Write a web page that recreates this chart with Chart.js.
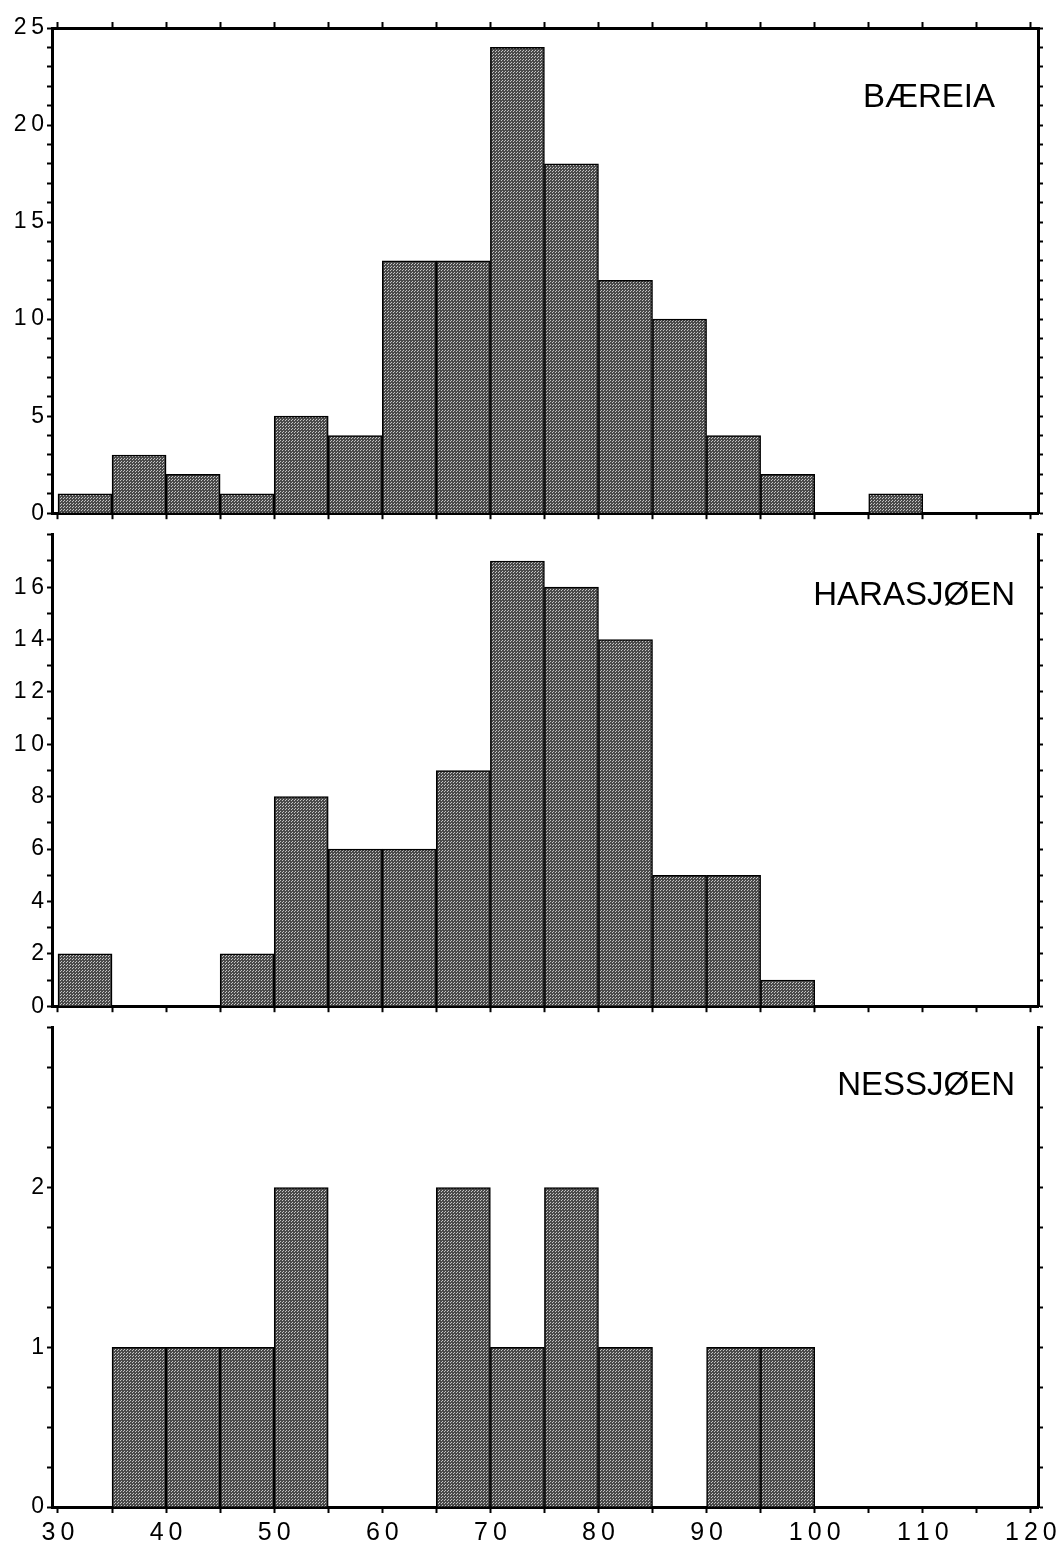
<!DOCTYPE html>
<html lang="no">
<head>
<meta charset="UTF-8">
<title>Histogrammer</title>
<script src="https://cdn.jsdelivr.net/npm/chart.js"></script>
<style>
  body { margin: 0; background: #fff; }
  #wrap { position: relative; width: 1056px; height: 1550px; overflow: hidden; }
  canvas { position: absolute; left: 0; }
  .lbl { position: absolute; font-family: 'Liberation Sans', Arial, sans-serif; font-size: 33px; color: #000; }
</style>
</head>
<body>
<div id="wrap">
  <canvas id="c1" width="1056" height="530" style="top:0"></canvas>
  <canvas id="c2" width="1056" height="505" style="top:518px"></canvas>
  <canvas id="c3" width="1056" height="539" style="top:1011px"></canvas>
  <div class="lbl" style="top:77px; right:61px">BÆREIA</div>
  <div class="lbl" style="top:575px; right:41px">HARASJØEN</div>
  <div class="lbl" style="top:1065px; right:41px">NESSJØEN</div>
</div>
<script>
// klassegrenser (start på hver 5-klasse)
const binStarts = [30, 35, 40, 45, 50, 55, 60, 65, 70, 75, 80, 85, 90, 95, 100, 105, 110, 115];
const bareia    = [1, 3, 2, 1, 5, 4, 13, 13, 24, 18, 12, 10, 4, 2, 0, 1, 0, 0];
const harasjoen = [2, 0, 0, 2, 8, 6, 6, 9, 17, 16, 14, 5, 5, 1, 0, 0, 0, 0];
const nessjoen  = [0, 1, 1, 1, 2, 0, 0, 2, 1, 2, 1, 0, 1, 1, 0, 0, 0, 0];
const xTicks = [30, 35, 40, 45, 50, 55, 60, 65, 70, 75, 80, 85, 90, 95, 100, 105, 110, 115, 120];

Chart.defaults.font.family = "'Liberation Sans', Arial, sans-serif";
Chart.defaults.color = '#000';

// prikkete grå fyll som i originalen
function stipple() {
  const pc = document.createElement('canvas');
  pc.width = 3; pc.height = 3;
  const p = pc.getContext('2d');
  p.fillStyle = '#4a4a4a';
  p.fillRect(0, 0, 3, 3);
  p.fillStyle = '#c4c4c4';
  p.fillRect(0, 0, 1, 1);
  p.fillRect(1, 2, 1, 1);
  return p.createPattern(pc, 'repeat');
}

const spaced = v => String(v).split('').join('\u2009');

function xAxis(pos, height, showLabels) {
  return {
    type: 'linear',
    position: pos,
    min: 29.445,
    max: 120.66,
    offset: false,
    afterBuildTicks: s => { s.ticks = xTicks.map(v => ({ value: v })); },
    afterFit: s => { s.height = height; s.paddingLeft = 0; s.paddingRight = 0; },
    border: { display: true, color: '#000', width: 3 },
    grid: { offset: false, drawOnChartArea: false, drawTicks: true, tickLength: 6, tickColor: '#000', tickWidth: 2 },
    ticks: {
      display: showLabels,
      autoSkip: false,
      maxRotation: 0,
      padding: 5,
      font: { size: 25 },
      callback: v => (v % 10 === 0 ? spaced(v) : '')
    }
  };
}

function yAxis(pos, max, step, labelFn) {
  return {
    position: pos,
    min: 0,
    max: max,
    afterBuildTicks: s => {
      const t = [];
      for (let v = 0; v <= max + 1e-9; v += step) t.push({ value: v });
      s.ticks = t;
    },
    afterFit: s => { s.width = pos === 'left' ? 52 : 18; },
    border: { display: true, color: '#000', width: 3 },
    grid: { drawOnChartArea: false, drawTicks: true, tickLength: 5, tickColor: '#000', tickWidth: 2 },
    ticks: {
      display: pos === 'left',
      autoSkip: false,
      padding: 3,
      font: { size: 23 },
      callback: v => labelFn(v)
    }
  };
}

function panel(id, values, max, step, labelFn, hasTop, bottomH) {
  const scales = {
    x: xAxis('bottom', bottomH, bottomH > 20),
    y: yAxis('left', max, step, labelFn),
    y2: yAxis('right', max, step, () => '')
  };
  if (hasTop) scales.xt = xAxis('top', 28, false);
  return new Chart(document.getElementById(id), {
    type: 'bar',
    data: {
      datasets: [{
        data: binStarts.map((b, i) => ({ x: b + 2.5, y: values[i] })),
        backgroundColor: stipple(),
        borderColor: '#000',
        borderWidth: 1.5,
        barPercentage: 1,
        categoryPercentage: 1,
        xAxisID: 'x',
        yAxisID: 'y'
      }]
    },
    options: {
      responsive: false,
      animation: false,
      layout: { padding: 0 },
      plugins: { legend: { display: false }, tooltip: { enabled: false } },
      scales: scales
    }
  });
}

panel('c1', bareia, 25, 1, v => (v % 5 === 0 ? spaced(v) : ''), true, 12);
panel('c2', harasjoen, 18, 1, v => (v % 2 === 0 && v <= 16 ? spaced(v) : ''), false, 12);
panel('c3', nessjoen, 3, 0.25, v => (Number.isInteger(v) && v < 3 ? String(v) : ''), false, 43);
</script>
</body>
</html>
